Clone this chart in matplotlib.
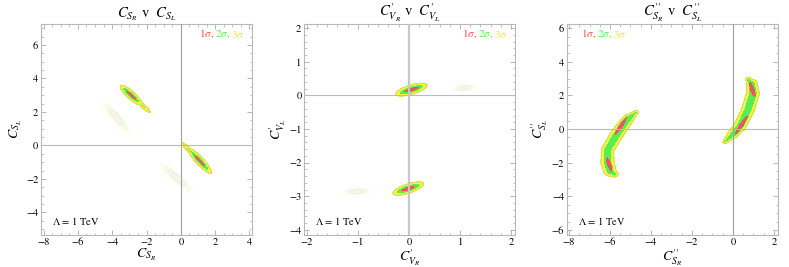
import numpy as np
import matplotlib
matplotlib.use("Agg")
import matplotlib.pyplot as plt
from matplotlib.ticker import MultipleLocator

plt.rcParams["font.family"] = "STIXGeneral"
plt.rcParams["mathtext.fontset"] = "stix"

RED, GREEN, YELLOW = "#f2545b", "#55ee55", "#f4f442"
# field levels for the 1 sigma / 2 sigma / 3 sigma bands (field = 1 on the outer 3 sigma edge)
LEVELS = [-5, 0.25, 0.6, 1.0]

# elliptical pieces: centre x, centre y, half-length, half-width, angle (deg), offset
# panel 1: C_SR v C_SL
p1_cx = [-2.9, -2.2, 1.1, 0.5]
p1_cy = [3.0, 2.35, -0.92, -0.3]
p1_a = [0.85, 0.75, 1.0, 0.85]
p1_b = [0.23, 0.15, 0.23, 0.15]
p1_ang = [-43, -43, -48, -46]
p1_off = [0.0, 0.45, 0.0, 0.45]
p1_faint_cx = [-3.73, -0.23]
p1_faint_cy = [1.65, -1.95]
p1_faint_a = [1.25, 1.28]
p1_faint_b = [0.25, 0.25]
p1_faint_ang = [-49, -42]

# panel 2: C'_VR v C'_VL
p2_cx = [0.05, -0.01]
p2_cy = [0.17, -2.77]
p2_a = [0.34, 0.34]
p2_b = [0.13, 0.13]
p2_ang = [27, 29]
p2_off = [0.0, 0.0]
p2_faint_cx = [1.08, -1.02]
p2_faint_cy = [0.22, -2.86]
p2_faint_a = [0.23, 0.27]
p2_faint_b = [0.1, 0.1]
p2_faint_ang = [8, 5]

# panel 3: C''_SR v C''_SL, two crescents given by their spine and half-width
p3_left_x = [-4.72, -5.11, -5.64, -6.12, -6.12, -6.0, -5.78]
p3_left_y = [1.0, 0.6, -0.26, -1.25, -2.0, -2.5, -2.68]
p3_left_w = [0.13, 0.32, 0.38, 0.36, 0.39, 0.36, 0.21]
p3_right_x = [-0.38, 0.0, 0.33, 0.73, 0.98, 0.92, 0.75]
p3_right_y = [-0.75, -0.3, 0.14, 1.13, 2.12, 2.7, 2.95]
p3_right_w = [0.13, 0.3, 0.35, 0.37, 0.38, 0.32, 0.16]
# 1 sigma cores of the crescents
p3_core_cx = [-5.47, -6.04, 0.42, 0.95]
p3_core_cy = [0.18, -2.1, 0.24, 2.35]
p3_core_a = [0.78, 0.6, 0.85, 0.62]
p3_core_b = [0.17, 0.17, 0.17, 0.17]
p3_core_ang = [62, 105, 62, 105]


def ellipses(X, Y, cx, cy, a, b, ang, off, pw=2):
    out = []
    for x0, y0, aa, bb, t, o in zip(cx, cy, a, b, ang, off):
        th = np.radians(t)
        dx, dy = X - x0, Y - y0
        u = dx * np.cos(th) + dy * np.sin(th)
        v = -dx * np.sin(th) + dy * np.cos(th)
        out.append(((u / aa) ** 2 + (v / bb) ** 2) ** (pw / 2) + o)
    return out


def tube(X, Y, xs, ys, ws, off):
    best = np.full(X.shape, np.inf)
    for k in range(len(xs) - 1):
        ax_, ay_, bx_, by_ = xs[k], ys[k], xs[k + 1], ys[k + 1]
        ex, ey = bx_ - ax_, by_ - ay_
        t = np.clip(((X - ax_) * ex + (Y - ay_) * ey) / (ex * ex + ey * ey), 0, 1)
        d = np.hypot(X - ax_ - t * ex, Y - ay_ - t * ey)
        w = ws[k] + t * (ws[k + 1] - ws[k])
        best = np.minimum(best, (d / w) ** 2 + off)
    return best


def softmin(parts, T=0.04):
    r = np.array(parts)
    m = r.min(0)
    return m - T * np.log(np.exp(-(r - m) / T).sum(0))


fig = plt.figure(figsize=(7.89, 2.67), dpi=100)
W, H = 0.2674, 0.79
lefts = [0.052, 0.3855, 0.7186]
panels = [
    dict(xlim=(-8.15, 4.15), ylim=(-5.35, 7.25), xmaj=2, ymaj=2, mnr=0.5,
         title=r"$C_{S_R}$ v  $C_{S_L}$", xl=r"$C_{S_R}$", yl=r"$C_{S_L}$", leg=(0.75, 0.955)),
    dict(xlim=(-2.05, 2.08), ylim=(-4.15, 2.12), xmaj=1, ymaj=1, mnr=0.2,
         title=r"$C_{V_R}^{\prime}$ v  $C_{V_L}^{\prime}$", xl=r"$C_{V_R}^{\prime}$",
         yl=r"$C_{V_L}^{\prime}$", leg=(0.75, 0.955)),
    dict(xlim=(-8.1, 2.2), ylim=(-6.3, 6.25), xmaj=2, ymaj=2, mnr=0.5,
         title=r"$C_{S_R}^{\prime\prime}$ v  $C_{S_L}^{\prime\prime}$",
         xl=r"$C_{S_R}^{\prime\prime}$", yl=r"$C_{S_L}^{\prime\prime}$", leg=(0.066, 0.955)),
]

for i, p in enumerate(panels):
    ax = fig.add_axes([lefts[i], 0.12, W, H])
    X, Y = np.meshgrid(np.linspace(*p["xlim"], 500), np.linspace(*p["ylim"], 500))
    faint = None
    if i == 0:
        main = softmin(ellipses(X, Y, p1_cx, p1_cy, p1_a, p1_b, p1_ang, p1_off))
        faint = softmin(ellipses(X, Y, p1_faint_cx, p1_faint_cy, p1_faint_a, p1_faint_b,
                                 p1_faint_ang, [0, 0]))
    elif i == 1:
        main = softmin(ellipses(X, Y, p2_cx, p2_cy, p2_a, p2_b, p2_ang, p2_off))
        faint = softmin(ellipses(X, Y, p2_faint_cx, p2_faint_cy, p2_faint_a, p2_faint_b,
                                 p2_faint_ang, [0, 0]))
    else:
        parts = [tube(X, Y, p3_left_x, p3_left_y, p3_left_w, 0.3),
                 tube(X, Y, p3_right_x, p3_right_y, p3_right_w, 0.3)]
        parts += ellipses(X, Y, p3_core_cx, p3_core_cy, p3_core_a, p3_core_b, p3_core_ang,
                          [0, 0, 0, 0], pw=6)
        main = softmin(parts, T=0.03)
    if faint is not None:
        ax.contourf(X, Y, faint, levels=LEVELS, colors=[RED, GREEN, YELLOW], alpha=0.08)
    ax.contourf(X, Y, main, levels=LEVELS, colors=[RED, GREEN, YELLOW])
    ax.contour(X, Y, main, levels=[1.0], colors="#cccc55", linewidths=0.5)
    ax.axhline(0, color="#bbbbbb", lw=0.8, zorder=3)
    if i == 1:
        ax.axvline(0, color="#c8c8c8", lw=1.6, zorder=3)
    else:
        ax.axvline(0, color="#a0a0a0", lw=0.8, zorder=3)
    ax.set_xlim(p["xlim"])
    ax.set_ylim(p["ylim"])
    ax.xaxis.set_major_locator(MultipleLocator(p["xmaj"]))
    ax.yaxis.set_major_locator(MultipleLocator(p["ymaj"]))
    ax.xaxis.set_minor_locator(MultipleLocator(p["mnr"]))
    ax.yaxis.set_minor_locator(MultipleLocator(p["mnr"]))
    ax.tick_params(which="both", direction="in", top=True, right=True, color="#aaaaaa",
                   labelsize=7.5, pad=2)
    ax.tick_params(which="major", length=3.5, width=0.6)
    ax.tick_params(which="minor", length=1.8, width=0.5)
    for s in ax.spines.values():
        s.set_color("#b8b8b8")
        s.set_linewidth(0.8)
    ax.set_title(p["title"], fontsize=10.5, pad=5)
    ax.set_xlabel(p["xl"], fontsize=10, labelpad=0)
    ax.set_ylabel(p["yl"], fontsize=10, labelpad=1)
    ax.text(0.05, 0.04, r"$\Lambda$ = 1 TeV", transform=ax.transAxes, fontsize=7.5,
            ha="left", va="bottom")
    t = ax.text(p["leg"][0], p["leg"][1], r"1$\sigma$, ", transform=ax.transAxes,
                fontsize=8, color=RED, ha="left", va="center")
    t = ax.annotate(r"2$\sigma$, ", xy=(1, 0), xycoords=t, fontsize=8, color=GREEN,
                    ha="left", va="bottom")
    ax.annotate(r"3$\sigma$", xy=(1, 0), xycoords=t, fontsize=8, color="#e8e840",
                ha="left", va="bottom")

fig.savefig("out.png", dpi=100)
